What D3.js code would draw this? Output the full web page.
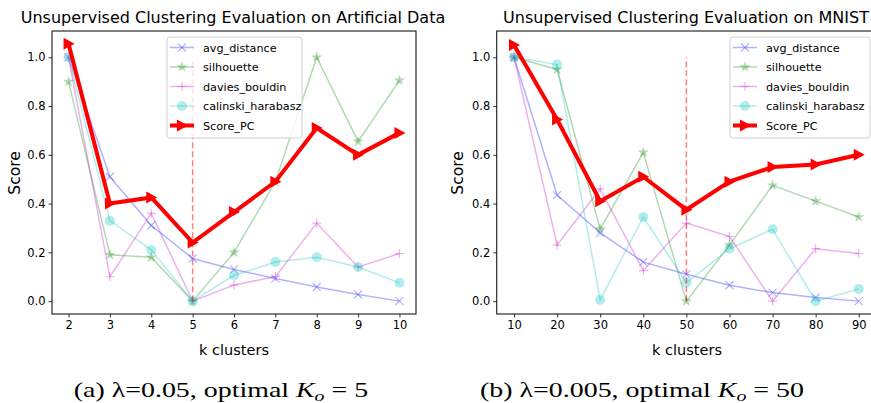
<!DOCTYPE html>
<html><head><meta charset="utf-8">
<script src="https://cdn.jsdelivr.net/npm/d3@7"></script>
<style>body{margin:0;background:#fff;} svg{display:block;}</style>
</head><body>
<svg id="c" width="871" height="403"></svg>
<script>
// ---------- data ----------
const seriesNames = ["avg_distance","silhouette","davies_bouldin","calinski_harabasz","Score_PC"];

const artK = [2,3,4,5,6,7,8,9,10];
const artAvgDistance = [1.0,0.51,0.31,0.175,0.13,0.093,0.058,0.027,0.0];
const artSilhouette = [0.9,0.19,0.18,0.0,0.2,0.49,1.0,0.655,0.905];
const artDaviesBouldin = [1.0,0.10,0.36,0.0,0.066,0.10,0.32,0.14,0.195];
const artCalinski = [1.0,0.33,0.21,0.0,0.105,0.16,0.18,0.14,0.075];
const artScorePC = [1.055,0.40,0.425,0.24,0.365,0.49,0.71,0.60,0.69];
const artOptimal = 5;

const mnistK = [10,20,30,40,50,60,70,80,90];
const mnistAvgDistance = [1.0,0.435,0.28,0.16,0.11,0.065,0.035,0.015,0.0];
const mnistSilhouette = [1.0,0.95,0.295,0.61,0.0,0.23,0.475,0.41,0.345];
const mnistDaviesBouldin = [1.0,0.23,0.46,0.125,0.32,0.265,0.0,0.215,0.195];
const mnistCalinski = [1.0,0.97,0.005,0.345,0.075,0.215,0.295,0.0,0.05];
const mnistScorePC = [1.05,0.745,0.41,0.51,0.375,0.49,0.55,0.56,0.60];
const mnistOptimal = 50;

const yTicks = [0.0,0.2,0.4,0.6,0.8,1.0];
const titles = ["Unsupervised Clustering Evaluation on Artificial Data","Unsupervised Clustering Evaluation on MNIST"];

// ---------- styles ----------
const styles = [
  {color:"rgba(0,0,255,0.3)", marker:"x", lw:1.5},
  {color:"rgba(0,128,0,0.3)", marker:"star", lw:1.5},
  {color:"rgba(191,0,191,0.3)", marker:"plus", lw:1.5},
  {color:"rgba(0,191,191,0.3)", marker:"circle", lw:1.5},
  {color:"#ff0000", marker:"tri", lw:4}
];

const svg = d3.select("#c");
const FONT = "DejaVu Sans, sans-serif";

function drawMarker(g, type, x, y, color) {
  if (type === "x") {
    const s = 4;
    g.append("path").attr("d", `M${x-s},${y-s}L${x+s},${y+s}M${x-s},${y+s}L${x+s},${y-s}`)
      .attr("stroke", color).attr("stroke-width", 1.2).attr("fill","none");
  } else if (type === "plus") {
    const s = 4.5;
    g.append("path").attr("d", `M${x-s},${y}L${x+s},${y}M${x},${y-s}L${x},${y+s}`)
      .attr("stroke", color).attr("stroke-width", 1.2).attr("fill","none");
  } else if (type === "star") {
    g.append("path").attr("d", d3.symbol(d3.symbolStar, 40)()).attr("transform", `translate(${x},${y})`)
      .attr("fill", color);
  } else if (type === "circle") {
    g.append("circle").attr("cx", x).attr("cy", y).attr("r", 5).attr("fill", color);
  } else if (type === "tri") {
    g.append("path").attr("d", `M${x+6},${y}L${x-5},${y-6}L${x-5},${y+6}Z`).attr("fill", color);
  }
}

function panel(cfg) {
  const x = d3.scaleLinear().domain(cfg.xdom).range([cfg.left, cfg.right]);
  const y = d3.scaleLinear().domain([-0.0528, 1.1078]).range([314, 31]);
  const g = svg.append("g");
  const clipId = "clip" + cfg.id;
  svg.append("clipPath").attr("id", clipId).append("rect")
    .attr("x", cfg.left).attr("y", 31).attr("width", cfg.right - cfg.left).attr("height", 283);
  const plot = g.append("g").attr("clip-path", `url(#${clipId})`);

  cfg.series.forEach((vals, i) => {
    const st = styles[i];
    const line = d3.line().x((d, j) => x(cfg.k[j])).y(d => y(d));
    plot.append("path").datum(vals).attr("d", line).attr("fill","none")
      .attr("stroke", st.color).attr("stroke-width", st.lw).attr("stroke-linejoin", "miter");
    vals.forEach((v, j) => drawMarker(plot, st.marker, x(cfg.k[j]), y(v), st.color));
  });
  plot.append("line").attr("x1", x(cfg.opt)).attr("x2", x(cfg.opt)).attr("y1", y(0)).attr("y2", y(1))
    .attr("stroke", "rgba(255,0,0,0.5)").attr("stroke-width", 1.5).attr("stroke-dasharray", "6,3");

  const xa = g.append("g").attr("transform", "translate(0,314)")
    .call(d3.axisBottom(x).tickValues(cfg.k).tickSize(3.5).tickPadding(3).tickFormat(d3.format("d")));
  const ya = g.append("g").attr("transform", `translate(${cfg.left},0)`)
    .call(d3.axisLeft(y).tickValues(yTicks).tickSize(3.5).tickPadding(3).tickFormat(d3.format(".1f")));
  [xa, ya].forEach(a => {
    a.select(".domain").remove();
    a.selectAll("text").attr("font-family", FONT).attr("font-size", 11.5).attr("fill", "#000");
    a.selectAll("line").attr("stroke", "#000").attr("stroke-width", 0.8);
  });
  g.append("rect").attr("x", cfg.left).attr("y", 31).attr("width", cfg.right - cfg.left).attr("height", 283)
    .attr("fill", "none").attr("stroke", "#000").attr("stroke-width", 1);

  g.append("text").attr("x", cfg.titleX).attr("y", 23).attr("text-anchor", "middle")
    .attr("font-family", FONT).attr("font-size", 16).text(cfg.title);
  g.append("text").attr("x", cfg.xlabX).attr("y", 355).attr("text-anchor", "middle")
    .attr("font-family", FONT).attr("font-size", 14.5).text("k clusters");
  g.append("text").attr("transform", `translate(${cfg.ylabX},173) rotate(-90)`).attr("text-anchor", "middle")
    .attr("font-family", FONT).attr("font-size", 15.5).text("Score");

  const lg = g.append("g");
  lg.append("rect").attr("x", cfg.legX).attr("y", 37).attr("width", cfg.legW).attr("height", 101)
    .attr("rx", 3).attr("fill", "rgba(255,255,255,0.8)").attr("stroke", "#d0d0d0").attr("stroke-width", 1);
  seriesNames.forEach((nm, i) => {
    const st = styles[i];
    const yy = 47.5 + i * 19.5;
    const hx = cfg.legX + 3;
    lg.append("line").attr("x1", hx).attr("x2", hx + 24).attr("y1", yy).attr("y2", yy)
      .attr("stroke", st.color).attr("stroke-width", st.lw);
    drawMarker(lg, st.marker, hx + 12, yy, st.color);
    lg.append("text").attr("x", hx + 33).attr("y", yy + 4.2).attr("font-family", FONT)
      .attr("font-size", 11.2).text(nm);
  });
}

panel({id:"a", k: artK, xdom:[1.6,10.4], left:52, right:416, opt: artOptimal,
  series:[artAvgDistance, artSilhouette, artDaviesBouldin, artCalinski, artScorePC],
  title: titles[0], titleX: 233, xlabX: 234, ylabX: 20, legX: 167, legW: 135});
panel({id:"b", k: mnistK, xdom:[6,94], left:496.75, right:876, opt: mnistOptimal,
  series:[mnistAvgDistance, mnistSilhouette, mnistDaviesBouldin, mnistCalinski, mnistScorePC],
  title: titles[1], titleX: 686, xlabX: 687, ylabX: 463, legX: 730, legW: 140});

function caption(xc, parts) {
  const t = svg.append("text").attr("transform", `translate(${xc},397) scale(1.33,1)`)
    .attr("text-anchor", "middle")
    .attr("font-family", "Liberation Serif, serif").attr("font-size", 21);
  parts.forEach(p => {
    const s = t.append("tspan").text(p.t);
    if (p.i) s.attr("font-style", "italic");
    if (p.sub) s.attr("font-size", 15).attr("dy", 4);
    if (p.up) s.attr("dy", -4);
  });
}
caption(221, [{t:"(a) λ=0.05, optimal "},{t:"K",i:1},{t:"o",i:1,sub:1},{t:" = 5",up:1}]);
caption(642, [{t:"(b) λ=0.005, optimal "},{t:"K",i:1},{t:"o",i:1,sub:1},{t:" = 50",up:1}]);
</script>
</body></html>
